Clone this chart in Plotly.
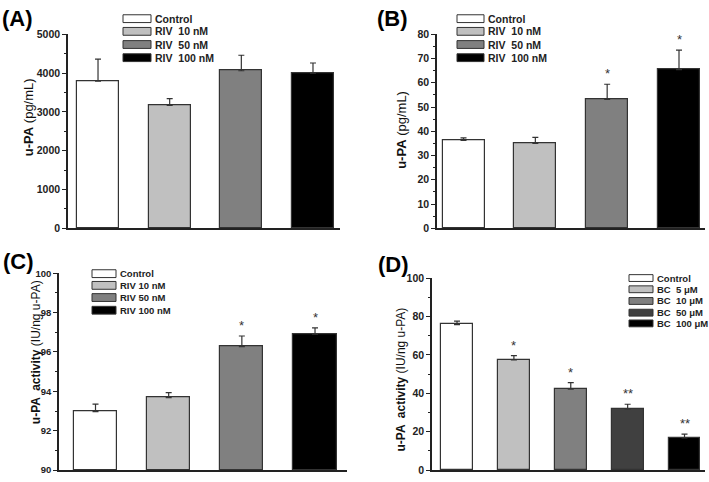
import plotly.graph_objects as go

W, H = 709, 482

# ---------------- data ----------------
riv_labels = ["Control", "RIV  10 nM", "RIV  50 nM", "RIV  100 nM"]
riv_labels_c = ["Control", "RIV 10 nM", "RIV 50 nM", "RIV 100 nM"]
bc_labels = ["Control", "BC  5 μM", "BC  10 μM", "BC  50 μM", "BC  100 μM"]

a_values = [3790, 3170, 4060, 4000]
a_errors = [570, 170, 400, 260]
a_stars = ["", "", "", ""]

b_values = [36.2, 35.0, 53.2, 65.4]
b_errors = [1.1, 2.5, 6.2, 8.1]
b_stars = ["", "", "*", "*"]

c_values = [92.97, 93.68, 96.27, 96.90]
c_errors = [0.38, 0.26, 0.54, 0.32]
c_stars = ["", "", "*", "*"]

d_values = [75.8, 57.4, 42.1, 31.8, 16.8]
d_errors = [1.8, 2.2, 3.5, 2.5, 1.9]
d_stars = ["", "*", "*", "**", "**"]

riv_colors = ["#ffffff", "#c0c0c0", "#808080", "#000000"]
bc_colors = ["#ffffff", "#c0c0c0", "#808080", "#404040", "#000000"]

EDGE = "#333333"
AXC = "#222222"
FONT = "Arial"

fig = go.Figure()


def px2x(px):
    return px / W


def px2y(py):
    return 1 - py / H


panels = [
    dict(v=a_values, e=a_errors, s=a_stars, c=riv_colors, l=riv_labels,
         xd=(68, 340), yd=(29, 228), xr=(-0.419, 3.377), yr=(0, 5000), dt=1000, mn=500, bw=0.585,
         tick_size=10.5),
    dict(v=b_values, e=b_errors, s=b_stars, c=riv_colors, l=riv_labels,
         xd=(437, 705), yd=(29, 228), xr=(-0.369, 3.362), yr=(0, 80), dt=10, mn=5, bw=0.585,
         tick_size=10.5),
    dict(v=c_values, e=c_errors, s=c_stars, c=riv_colors, l=riv_labels_c,
         xd=(59, 347), yd=(274, 476), xr=(-0.499, 3.437), yr=(90, 100), dt=2, mn=1, bw=0.59,
         tick_size=9.5),
    dict(v=d_values, e=d_errors, s=d_stars, c=bc_colors, l=bc_labels,
         xd=(432, 705), yd=(279, 476), xr=(-0.44, 4.36), yr=(0, 100), dt=20, mn=10, bw=0.56,
         tick_size=10.5),
]

annotations = []
shapes = []

for i, p in enumerate(panels, start=1):
    xa = "x" if i == 1 else f"x{i}"
    ya = "y" if i == 1 else f"y{i}"
    xs = list(range(len(p["v"])))
    base = p["yr"][0]
    fig.add_trace(go.Bar(
        x=xs, y=[v - base for v in p["v"]], base=base,
        width=p["bw"],
        marker=dict(color=p["c"], line=dict(color=EDGE, width=1.2)),
        error_y=dict(type="data", symmetric=False, array=p["e"],
                     arrayminus=[0] * len(p["e"]),
                     color=EDGE, thickness=1.2, width=3),
        xaxis=xa, yaxis=ya, showlegend=False, hoverinfo="skip",
    ))
    xkey = "xaxis" if i == 1 else f"xaxis{i}"
    ykey = "yaxis" if i == 1 else f"yaxis{i}"
    fig.update_layout(**{
        xkey: dict(domain=[px2x(p["xd"][0]), px2x(p["xd"][1])], range=list(p["xr"]),
                   anchor=ya, showgrid=False, zeroline=False, showticklabels=False,
                   ticks="", showline=True, linecolor=AXC, linewidth=1.5, fixedrange=True),
        ykey: dict(domain=[px2y(p["yd"][1]), px2y(p["yd"][0])], range=list(p["yr"]),
                   anchor=xa, showgrid=False, zeroline=False, showline=True,
                   linecolor=AXC, linewidth=1.5, ticks="outside", ticklen=4,
                   tickwidth=1.2, tickcolor=AXC, dtick=p["dt"], tick0=p["yr"][0],
                   tickfont=dict(family=FONT, size=p["tick_size"], color=AXC, weight="bold"),
                   minor=dict(dtick=p["mn"], ticks="outside", ticklen=2, tickcolor=AXC,
                              tickwidth=1),
                   fixedrange=True),
    })
    for xi, (v, e, s) in enumerate(zip(p["v"], p["e"], p["s"])):
        if s:
            annotations.append(dict(x=xi, y=v + e, xref=xa, yref=ya, text=s,
                                    showarrow=False, yanchor="bottom", yshift=1,
                                    font=dict(family=FONT, size=13, color=EDGE)))

titles = [
    ("<b>u-PA</b> (pg/mL)", 28, 114, 13),
    ("<b>u-PA</b> (pg/mL)", 402, 127, 13),
    ("<b>u-PA  activity</b> (IU/ng u-PA)", 36, 355, 12),
    ("<b>u-PA  activity</b> (IU/ng u-PA)", 401, 383, 12),
]
for t, x, y, fs in titles:
    annotations.append(dict(x=px2x(x), y=px2y(y), xref="paper", yref="paper", text=t,
                            textangle=-90, showarrow=False, xanchor="center", yanchor="middle",
                            font=dict(family=FONT, size=fs, color="#111")))

letters = [("(A)", 0, 13), ("(B)", 375, 13), ("(C)", 1, 262), ("(D)", 376, 265)]
for t, x, y in letters:
    annotations.append(dict(x=px2x(x), y=px2y(y), xref="paper", yref="paper", text=f"<b>{t}</b>",
                            showarrow=False, xanchor="left", yanchor="middle",
                            font=dict(family=FONT, size=22, color="#000")))

legends = [
    (riv_labels, riv_colors, 123, 151, [13, 26, 39.5, 53], 8, 10.5),
    (riv_labels, riv_colors, 457, 484, [13, 26, 39.5, 53], 8, 10.5),
    (riv_labels_c, riv_colors, 92, 116, [274.5, 286.5, 299, 312], 8, 9.5),
    (bc_labels, bc_colors, 629, 653, [279, 290.5, 302.5, 314.5, 325.5], 7, 9.5),
]
for labels, cols, x0, x1, ys, hgt, fs in legends:
    for lab, col, yc in zip(labels, cols, ys):
        shapes.append(dict(type="rect", xref="paper", yref="paper",
                           x0=px2x(x0), x1=px2x(x1),
                           y0=px2y(yc + hgt / 2), y1=px2y(yc - hgt / 2),
                           fillcolor=col, line=dict(color=EDGE, width=1)))
        annotations.append(dict(x=px2x(x1 + 2), y=px2y(yc), xref="paper", yref="paper",
                                text=lab, showarrow=False, xanchor="left", yanchor="middle",
                                font=dict(family=FONT, size=fs, color="#222", weight="bold")))

fig.update_layout(
    width=W, height=H, margin=dict(l=0, r=0, t=0, b=0),
    paper_bgcolor="white", plot_bgcolor="white",
    annotations=annotations, shapes=shapes, bargap=0,
    font=dict(family=FONT),
)

fig.write_html("out.html", config={"displayModeBar": False},
               post_script="document.body.style.margin='0';document.body.style.overflow='hidden';")
